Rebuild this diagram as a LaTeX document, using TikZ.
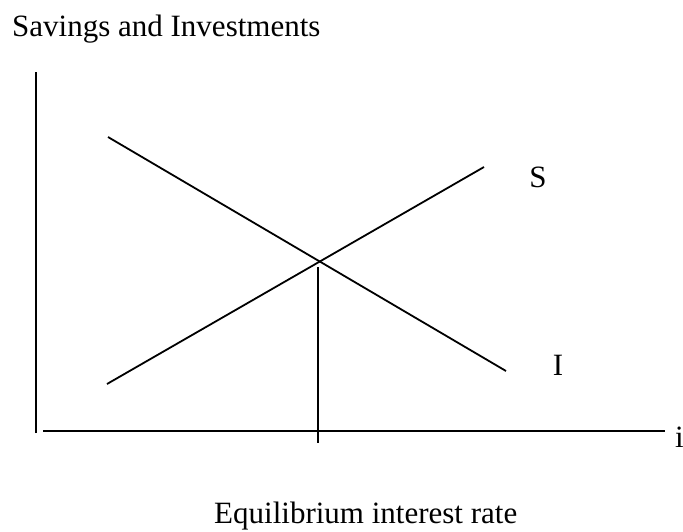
\documentclass[tikz,border=0pt]{standalone}
\usepackage{fontspec}
\setmainfont{Liberation Serif}
\begin{document}
\begin{tikzpicture}[x=1pt,y=-1pt,line width=1.8pt,font=\fontsize{31}{37}\selectfont]

\useasboundingbox (0,0) rectangle (683,531);

\node[anchor=base west] (title) at (8,36) {Savings and Investments};

% axes
\coordinate (o) at (36,433);
\coordinate (ytop) at (36,72);
\coordinate (xs) at (43,431);
\coordinate (xe) at (665,431);
\draw (o) -- (ytop);
\draw (xs) -- (xe);
\node[anchor=base west] (irate) at (671,447) {i};

% savings and investment lines
\coordinate (s1) at (107,384);
\coordinate (s2) at (484,167);
\coordinate (i1) at (108,137);
\coordinate (i2) at (506,371);
\draw (s1) -- (s2);
\draw (i1) -- (i2);
\node (S) at (538,177) {S};
\node (I) at (558,365) {I};

% equilibrium
\coordinate (eq) at (318,267);
\coordinate (tick) at (318,443);
\draw (eq) -- (tick);
\node[anchor=base west] (eqlabel) at (210,523) {Equilibrium interest rate};
\end{tikzpicture}
\end{document}
